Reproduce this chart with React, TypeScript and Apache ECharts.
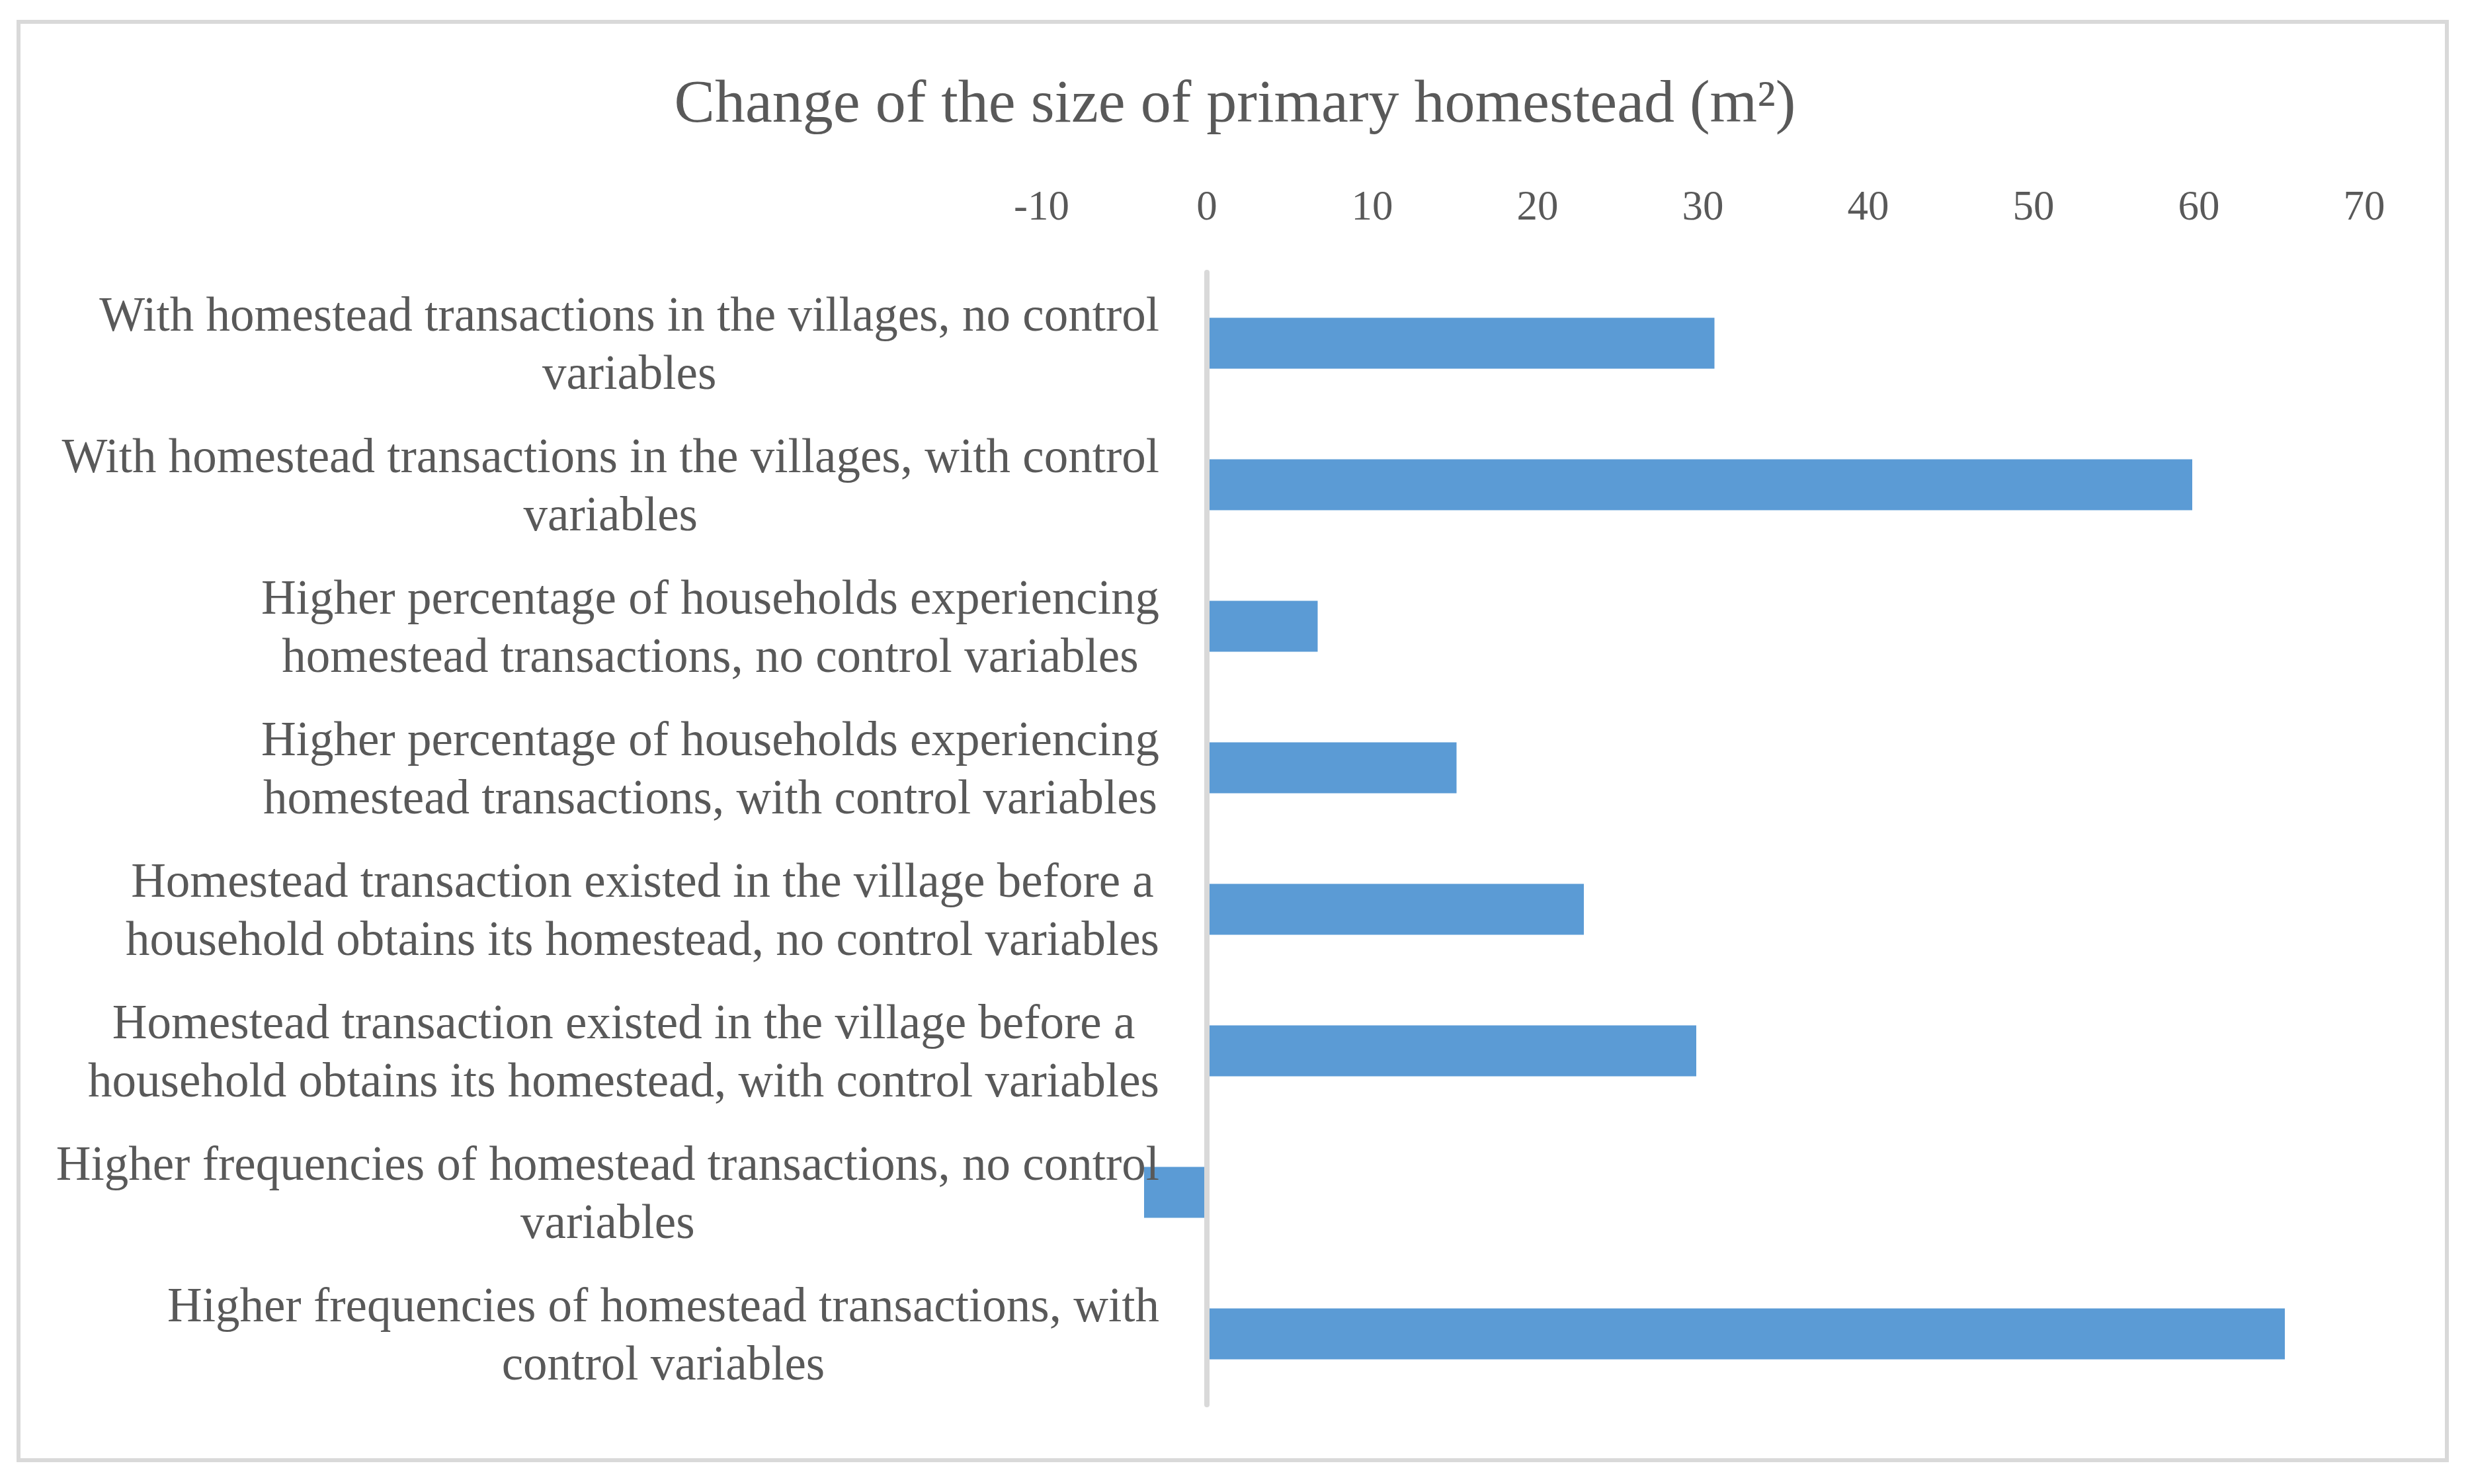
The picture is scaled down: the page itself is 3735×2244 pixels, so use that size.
import React, { useEffect, useRef } from "react";
import * as echarts from "echarts";

const titleText = "Change of the size of primary homestead (m²)";

const categories = [
  "With homestead transactions in the villages, no control\nvariables",
  "With homestead transactions in the villages, with control\nvariables",
  "Higher percentage of households experiencing\nhomestead transactions, no control variables",
  "Higher percentage of households experiencing\nhomestead transactions, with control variables",
  "Homestead transaction existed in the village before a\nhousehold obtains its homestead, no control variables",
  "Homestead transaction existed in the village before a\nhousehold obtains its homestead, with control variables",
  "Higher frequencies of homestead transactions, no control\nvariables",
  "Higher frequencies of homestead transactions, with\ncontrol variables",
];

const values = [30.7, 59.6, 6.7, 15.1, 22.8, 29.6, -3.8, 65.2];

const axisMin = -10;
const axisMax = 70;
const axisStep = 10;

const FONT = "'Liberation Serif', 'Times New Roman', serif";
const TEXT = "#595959";

export default function App() {
  const ref = useRef<HTMLDivElement>(null);

  useEffect(() => {
    if (!ref.current) return;
    const chart = echarts.init(ref.current, null, { renderer: "svg" });
    chart.setOption({
      animation: false,
      backgroundColor: "#ffffff",
      title: {
        text: titleText,
        left: "center",
        top: 102,
        textStyle: {
          fontFamily: FONT,
          fontSize: 92,
          fontWeight: "normal",
          color: TEXT,
        },
      },
      graphic: [
        {
          type: "rect",
          shape: { x: 28, y: 33, width: 3672, height: 2175 },
          style: { fill: "none", stroke: "#d9d9d9", lineWidth: 6 },
          silent: true,
        },
      ],
      grid: {
        left: 1575,
        right: 160,
        top: 412,
        bottom: 120,
        containLabel: false,
      },
      xAxis: {
        type: "value",
        position: "top",
        min: axisMin,
        max: axisMax,
        interval: axisStep,
        axisLine: { show: false },
        axisTick: { show: false },
        splitLine: { show: false },
        axisLabel: {
          margin: 70,
          fontFamily: FONT,
          fontSize: 63,
          color: TEXT,
        },
      },
      yAxis: {
        type: "category",
        inverse: true,
        data: categories,
        z: 5,
        axisTick: { show: false },
        axisLine: {
          show: true,
          onZero: true,
          lineStyle: { color: "#d9d9d9", width: 8 },
        },
        axisLabel: {
          margin: -178,
          align: "right",
          fontFamily: FONT,
          fontSize: 73,
          color: TEXT,
          lineHeight: 88,
          formatter: (v: string) =>
            v
              .split("\n")
              .map((l) => "{c|" + l + "}")
              .join("\n"),
          rich: {
            c: {
              align: "center",
              fontFamily: FONT,
              fontSize: 73,
              color: TEXT,
              lineHeight: 88,
            },
          },
        },
      },
      series: [
        {
          type: "bar",
          data: values,
          barWidth: "36%",
          itemStyle: { color: "#5b9bd5" },
          z: 1,
        },
      ],
    });
    return () => chart.dispose();
  }, []);

  return (
    <div
      ref={ref}
      style={{
        position: "absolute",
        left: 0,
        top: 0,
        width: 3735,
        height: 2244,
        background: "#fff",
      }}
    />
  );
}
